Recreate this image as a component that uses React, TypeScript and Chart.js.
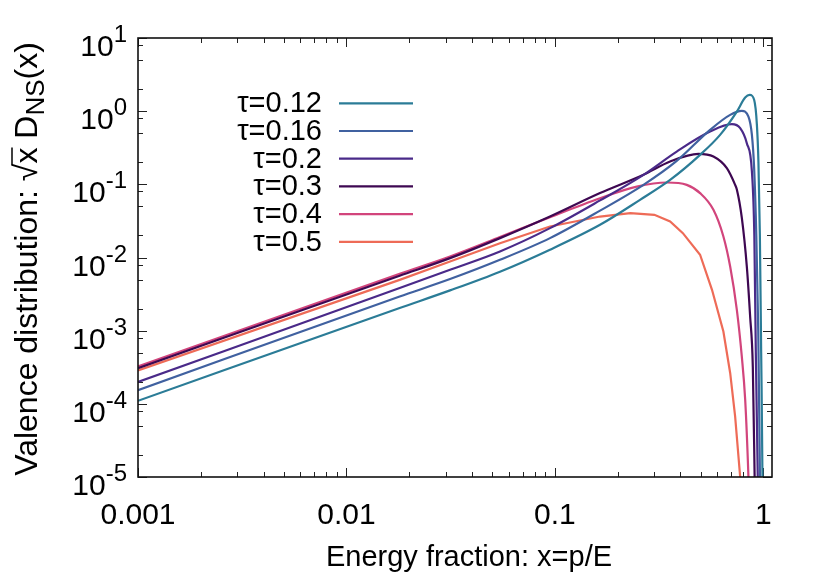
import React, { useEffect, useRef } from "react";
import { Chart, registerables } from "chart.js";
Chart.register(...registerables);

const FONT = '"Liberation Sans", Arial, Helvetica, sans-serif';

// ---- data ----
const seriesLabels = ["τ=0.12", "τ=0.16", "τ=0.2", "τ=0.3", "τ=0.4", "τ=0.5"];
const seriesColors = ["#2b7c97", "#4061a0", "#4a2a89", "#3e0852", "#d2457c", "#ee6b57"];

const x012 = [0.001, 0.018, 0.0314, 0.0545, 0.0947, 0.1646, 0.256, 0.357, 0.497, 0.62, 0.746, 0.818, 0.86, 0.903, 0.931, 0.947, 0.962, 0.976, 0.99, 0.998];
const y012 = [1.1e-4, 2.04e-3, 3.55e-3, 6.4e-3, 0.0128, 0.028, 0.0614, 0.115, 0.253, 0.474, 0.987, 1.535, 1.67, 1.43, 0.65, 0.2, 0.02, 5e-4, 1e-5, 1e-7];

const x016 = [0.001, 0.018, 0.0314, 0.0545, 0.0947, 0.1646, 0.266, 0.384, 0.555, 0.693, 0.788, 0.848, 0.881, 0.903, 0.925, 0.945, 0.963, 0.985];
const y016 = [1.54e-4, 2.93e-3, 5.07e-3, 9.3e-3, 0.0184, 0.0437, 0.0984, 0.209, 0.555, 0.89, 1.01, 0.843, 0.474, 0.1665, 0.02, 1e-3, 1e-5, 1e-7];

const x020 = [0.001, 0.018, 0.0314, 0.0545, 0.0947, 0.1646, 0.266, 0.384, 0.555, 0.706, 0.774, 0.833, 0.881, 0.905, 0.92, 0.94, 0.96];
const y020 = [1.99e-4, 3.82e-3, 6.79e-3, 0.0121, 0.0252, 0.0603, 0.1349, 0.2805, 0.526, 0.664, 0.586, 0.365, 0.1496, 0.02, 5e-4, 1e-5, 1e-7];

const x030 = [0.001, 0.018, 0.0314, 0.0545, 0.0947, 0.1646, 0.266, 0.357, 0.488, 0.576, 0.668, 0.732, 0.746, 0.788, 0.833, 0.864, 0.89, 0.908, 0.93];
const y030 = [3.08e-4, 5.62e-3, 9.8e-3, 0.0184, 0.0363, 0.0759, 0.1349, 0.205, 0.261, 0.24, 0.1665, 0.0984, 0.085, 0.035, 7.5e-3, 1.56e-3, 3.2e-4, 1e-5, 1e-7];

const x040 = [0.001, 0.018, 0.0314, 0.0545, 0.0947, 0.1646, 0.247, 0.344, 0.429, 0.497, 0.576, 0.643, 0.693, 0.746, 0.788, 0.818, 0.848, 0.89];
const y040 = [3.24e-4, 5.98e-3, 0.0103, 0.019, 0.0356, 0.0647, 0.093, 0.106, 0.0984, 0.0759, 0.0449, 0.0194, 7.53e-3, 1.93e-3, 4.44e-4, 1.14e-4, 1e-5, 1e-7];

const x050 = [0.001, 0.018, 0.0314, 0.0545, 0.0947, 0.1646, 0.23, 0.3, 0.357, 0.411, 0.497, 0.567, 0.643, 0.693, 0.732, 0.774, 0.82];
const y050 = [2.86e-4, 4.95e-3, 8.8e-3, 0.0157, 0.0265, 0.0363, 0.0404, 0.0383, 0.031, 0.0215, 0.0109, 3.62e-3, 9.75e-4, 2.64e-4, 6.73e-5, 1e-5, 1e-7];

const seriesX = [x012, x016, x020, x030, x040, x050];
const seriesY = [y012, y016, y020, y030, y040, y050];
const seriesSmooth = [true, true, true, true, true, false];

const xMin = 0.001;
const xMax = 1.1;
const yMin = 1e-5;
const yMax = 10;
const xMajorTicks = [0.001, 0.01, 0.1, 1];
const xTickLabels = ["0.001", "0.01", "0.1", "1"];
const xMinorMultipliers = [2, 3, 4, 5, 6, 7, 8, 9];
const yExponents = [1, 0, -1, -2, -3, -4, -5];
const yMinorMultipliers = [2, 5, 8];

const xTitle = "Energy fraction: x=p/E";

type Part = { text: string; size: number; dy?: number };

function partsWidth(ctx: CanvasRenderingContext2D, parts: Part[]) {
  let w = 0;
  for (const p of parts) {
    ctx.font = `${p.size}px ${FONT}`;
    w += ctx.measureText(p.text).width;
  }
  return w;
}

function drawParts(ctx: CanvasRenderingContext2D, parts: Part[], x: number, y: number) {
  let cx = x;
  ctx.textAlign = "left";
  ctx.textBaseline = "alphabetic";
  for (const p of parts) {
    ctx.font = `${p.size}px ${FONT}`;
    ctx.fillText(p.text, cx, y + (p.dy || 0));
    cx += ctx.measureText(p.text).width;
  }
}

const gnuplotPlugin = {
  id: "gnuplotAxes",
  beforeDatasetsDraw(chart: any) {
    const { ctx, chartArea: a, scales } = chart;
    const xs = scales.x;
    const ys = scales.y;
    ctx.save();
    ctx.strokeStyle = "#222";
    ctx.lineWidth = 1;
    const seg = (x1: number, y1: number, x2: number, y2: number) => {
      ctx.beginPath();
      ctx.moveTo(x1, y1);
      ctx.lineTo(x2, y2);
      ctx.stroke();
    };
    for (const d of xMajorTicks) {
      const px = Math.round(xs.getPixelForValue(d)) + 0.5;
      seg(px, a.bottom, px, a.bottom - 9);
      seg(px, a.top, px, a.top + 9);
      for (const m of xMinorMultipliers) {
        const v = d * m;
        if (v >= xMax) continue;
        const p = Math.round(xs.getPixelForValue(v)) + 0.5;
        seg(p, a.bottom, p, a.bottom - 5);
        seg(p, a.top, p, a.top + 5);
      }
    }
    for (const e of yExponents) {
      const v = Math.pow(10, e);
      const py = Math.round(ys.getPixelForValue(v)) + 0.5;
      seg(a.left, py, a.left + 9, py);
      seg(a.right, py, a.right - 9, py);
      if (e < 1) {
        for (const m of yMinorMultipliers) {
          const p = Math.round(ys.getPixelForValue(v * m)) + 0.5;
          seg(a.left, p, a.left + 5, p);
          seg(a.right, p, a.right - 5, p);
        }
      }
    }
    ctx.restore();
  },
  afterDatasetsDraw(chart: any) {
    const { ctx, chartArea: a, scales } = chart;
    const xs = scales.x;
    const ys = scales.y;
    ctx.save();
    // frame
    ctx.strokeStyle = "#111";
    ctx.lineWidth = 1.6;
    ctx.strokeRect(a.left, a.top, a.right - a.left, a.bottom - a.top);

    ctx.fillStyle = "#000";
    // x tick labels
    ctx.font = `30px ${FONT}`;
    ctx.textAlign = "center";
    ctx.textBaseline = "alphabetic";
    xMajorTicks.forEach((v, i) => {
      ctx.fillText(xTickLabels[i], xs.getPixelForValue(v), 524);
    });
    // y tick labels
    for (const e of yExponents) {
      const py = ys.getPixelForValue(Math.pow(10, e));
      const parts: Part[] = [
        { text: "10", size: 30 },
        { text: String(e), size: 24, dy: -14 },
      ];
      const w = partsWidth(ctx, parts);
      drawParts(ctx, parts, 127 - w, py + 18);
    }
    // x title
    ctx.font = `29px ${FONT}`;
    ctx.textAlign = "center";
    ctx.fillText(xTitle, 469, 566);

    // y title (rotated)
    ctx.save();
    ctx.translate(37, 259);
    ctx.rotate(-Math.PI / 2);
    const pre = "Valence distribution: ";
    const parts: Part[] = [
      { text: pre + "√x D", size: 32 },
      { text: "NS", size: 26, dy: 7 },
      { text: "(x)", size: 32 },
    ];
    const tw = partsWidth(ctx, parts);
    const sx = -tw / 2;
    drawParts(ctx, parts, sx, 0);
    // overline over x of the radical
    ctx.font = `32px ${FONT}`;
    const wPre = ctx.measureText(pre + "√").width;
    const wX = ctx.measureText("x").width;
    ctx.strokeStyle = "#000";
    ctx.lineWidth = 1.5;
    ctx.beginPath();
    ctx.moveTo(sx + wPre - 2, -25);
    ctx.lineTo(sx + wPre + wX, -25);
    ctx.stroke();
    ctx.restore();

    // legend
    ctx.font = `29px ${FONT}`;
    ctx.textAlign = "right";
    ctx.textBaseline = "middle";
    seriesLabels.forEach((lab, i) => {
      const yRow = 103.3 + i * 27.7;
      ctx.fillStyle = "#000";
      ctx.fillText(lab, 322, yRow + 1);
      ctx.strokeStyle = seriesColors[i];
      ctx.lineWidth = 2.2;
      ctx.beginPath();
      ctx.moveTo(339, yRow);
      ctx.lineTo(413, yRow);
      ctx.stroke();
    });
    ctx.restore();
  },
};

export default function App() {
  const ref = useRef<HTMLCanvasElement | null>(null);
  useEffect(() => {
    if (!ref.current) return;
    const datasets = seriesLabels.map((lab, i) => ({
      label: lab,
      data: seriesX[i].map((x, j) => ({ x, y: seriesY[i][j] })),
      borderColor: seriesColors[i],
      backgroundColor: seriesColors[i],
      borderWidth: 2.2,
      pointRadius: 0,
      showLine: true,
      cubicInterpolationMode: seriesSmooth[i] ? "monotone" : "default",
      tension: 0,
      clip: 0,
    }));
    const chart = new Chart(ref.current, {
      type: "scatter",
      data: { datasets: datasets as any },
      options: {
        responsive: false,
        animation: false,
        layout: { padding: { left: 138, top: 38, right: 58, bottom: 104 } },
        plugins: { legend: { display: false }, tooltip: { enabled: false } },
        scales: {
          x: { type: "logarithmic", min: xMin, max: xMax, display: false },
          y: { type: "logarithmic", min: yMin, max: yMax, display: false },
        },
      },
      plugins: [gnuplotPlugin],
    });
    return () => chart.destroy();
  }, []);
  return (
    <div style={{ position: "absolute", left: 0, top: 0, width: 830, height: 581, background: "#fff" }}>
      <canvas ref={ref} width={830} height={581} style={{ display: "block" }} />
    </div>
  );
}
